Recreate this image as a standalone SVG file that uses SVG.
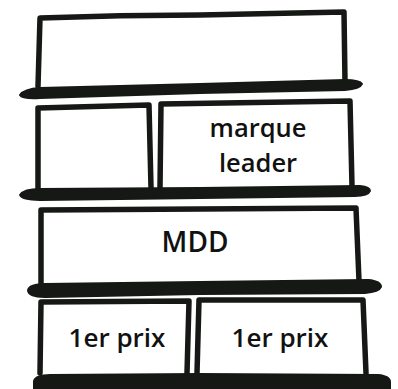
<svg xmlns="http://www.w3.org/2000/svg" width="398" height="389" viewBox="0 0 398 389">
<style>
.box{fill:none;stroke:#151815;stroke-width:5.5;stroke-linejoin:round;stroke-linecap:round}
.shelf{fill:#151815;stroke:#151815;stroke-width:2;stroke-linejoin:round}
.lbl{font-family:"Open Sans","Liberation Sans",sans-serif;font-weight:600;fill:#111;text-anchor:middle}
</style>
<rect width="398" height="389" fill="#fff"/>
<g id="connectors"></g>
<g id="shelf1"><path class="shelf" d="M20,95 Q24,89 40,88 L200,84 L345,80 Q360,80 362,84 Q360,89 345,90 L200,93 L40,98 Q22,99 20,95 Z"/></g>
<g id="top"><path class="box" d="M38,86 L40,18 Q120,15 200,15 L344,12 L345,82"/></g>
<g id="small"><path class="box" d="M38,188 L38,108 L149,105 L151,188"/></g>
<g id="marque"><path class="box" d="M160,188 L161,104 L350,101 L352,186"/>
<text class="lbl" x="258" y="137" font-size="25.5">marque</text>
<text class="lbl" x="258" y="172" font-size="25.5">leader</text></g>
<g id="shelf2"><path class="shelf" d="M20,195 Q24,189 40,189 L200,188 L360,186 Q370,187 370,191 Q368,196 355,196 L200,198 L40,200 Q22,200 20,195 Z"/></g>
<g id="mdd"><path class="box" d="M41,283 L41,210 L200,209 L356,208 L359,281"/>
<text class="lbl" x="195" y="252" font-size="28">MDD</text></g>
<g id="shelf3"><path class="shelf" d="M28,290 Q30,284 45,284 L200,282 L368,280 Q381,281 381,287 Q379,292 365,293 L200,294 L45,297 Q28,297 28,290 Z"/></g>
<g id="prix1"><path class="box" d="M40,373 L41,302 L189,301 L187,373"/>
<text class="lbl" x="117" y="347" font-size="26">1er prix</text></g>
<g id="prix2"><path class="box" d="M197,373 L199,300 L363,300 L366,373"/>
<text class="lbl" x="280" y="347" font-size="26">1er prix</text></g>
<g id="shelf4"><path class="shelf" d="M34,381 Q36,375 50,375 L200,374 L378,375 Q390,376 390,382 L390,389 L34,389 Z"/></g>
</svg>
